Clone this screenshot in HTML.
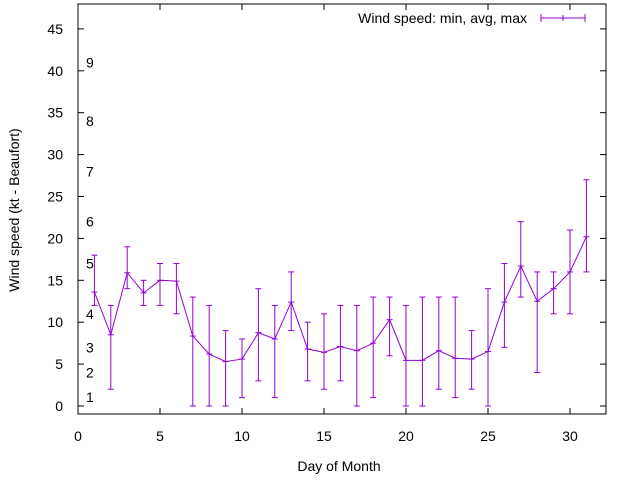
<!DOCTYPE html>
<html><head><meta charset="utf-8"><style>
body{margin:0;background:#fff}
svg{display:block;font-family:"Liberation Sans",sans-serif}
</style></head><body>
<svg id="chart" width="640" height="480" viewBox="0 0 640 480">
<rect width="640" height="480" fill="#fff"/>
<g id="axes"></g>
<g id="beaufort"></g>
<g id="series"></g>
<g id="legend">
<text x="527" y="23" text-anchor="end" font-size="14">Wind speed: min, avg, max</text>
<line x1="541" y1="18" x2="585" y2="18" stroke="#9400d3"/>
<line x1="541" y1="14" x2="541" y2="22" stroke="#9400d3"/>
<line x1="585" y1="14" x2="585" y2="22" stroke="#9400d3"/>
<line x1="563" y1="15" x2="563" y2="21" stroke="#9400d3"/>
</g>
<text x="339" y="471" text-anchor="middle" font-size="14">Day of Month</text>
<text transform="translate(19,210) rotate(-90)" text-anchor="middle" font-size="14">Wind speed (kt - Beaufort)</text>
</svg>
<script>
const days=[1,2,3,4,5,6,7,8,9,10,11,12,13,14,15,16,17,18,19,20,21,22,23,24,25,26,27,28,29,30,31];
const avgVals=[13.6,8.5,15.9,13.5,15,14.9,8.35,6.2,5.3,5.6,8.75,8,12.4,6.8,6.4,7.1,6.6,7.5,10.3,5.45,5.45,6.6,5.7,5.6,6.5,12.4,16.7,12.5,14,16,20.2];
const minVals=[12,2,14,12,12,11,0,0,0,1,3,1,9,3,2,3,0,1,6,0,0,2,1,2,0,7,13,4,11,11,16];
const maxVals=[18,12,19,15,17,17,13,12,9,8,14,12,16,10,11,12,12,13,13,12,13,13,13,9,14,17,22,16,16,21,27];
const xTicks=[0,5,10,15,20,25,30];
const yTicks=[0,5,10,15,20,25,30,35,40,45];
const bftLabels=["1","2","3","4","5","6","7","8","9"];
const bftPos=[1.07,4,7,11,17,22,28,34,41];
const L=78,R=606,T=4,B=414;
const X=v=>78+v*16.4;
const Y=v=>406-v*8.38;
const NS="http://www.w3.org/2000/svg";
function mk(tag,attrs,parent){const e=document.createElementNS(NS,tag);for(const k in attrs)e.setAttribute(k,attrs[k]);parent.appendChild(e);return e;}
const axes=document.getElementById('axes');
const frame=mk('rect',{x:L,y:T,width:R-L,height:B-T,fill:'none',stroke:'#000'},axes);


xTicks.forEach(v=>{
  mk('line',{x1:X(v),y1:B,x2:X(v),y2:B-6,stroke:'#000'},axes);
  mk('line',{x1:X(v),y1:T,x2:X(v),y2:T+6,stroke:'#000'},axes);
  const t=mk('text',{x:X(v),y:441,'text-anchor':'middle','font-size':14},axes);
  t.textContent=v;
  
  
});
yTicks.forEach(v=>{
  mk('line',{x1:L,y1:Y(v),x2:L+6,y2:Y(v),stroke:'#000'},axes);
  mk('line',{x1:R,y1:Y(v),x2:R-6,y2:Y(v),stroke:'#000'},axes);
  const t=mk('text',{x:63,y:Y(v)+5,'text-anchor':'end','font-size':14},axes);
  t.textContent=v;
  
  
});
const bft=document.getElementById('beaufort');
bftLabels.forEach((s,i)=>{
  const t=mk('text',{x:86,y:Y(bftPos[i])+5,'font-size':14},bft);
  t.textContent=s;
  
  
});
const ser=document.getElementById('series');
const pts=days.map((d,i)=>X(d)+','+Y(avgVals[i])).join(' ');
const pl=mk('polyline',{points:pts,fill:'none',stroke:'#9400d3'},ser);


days.forEach((d,i)=>{
  const x=X(d);
  const g=mk('g',{stroke:'#9400d3'},ser);
  
  
  mk('line',{x1:x,y1:Y(minVals[i]),x2:x,y2:Y(maxVals[i])},g);
  mk('line',{x1:x-3,y1:Y(minVals[i]),x2:x+3,y2:Y(minVals[i])},g);
  mk('line',{x1:x-3,y1:Y(maxVals[i]),x2:x+3,y2:Y(maxVals[i])},g);
  mk('line',{x1:x-3,y1:Y(avgVals[i]),x2:x+3,y2:Y(avgVals[i])},g);
});
</script>
</body></html>
